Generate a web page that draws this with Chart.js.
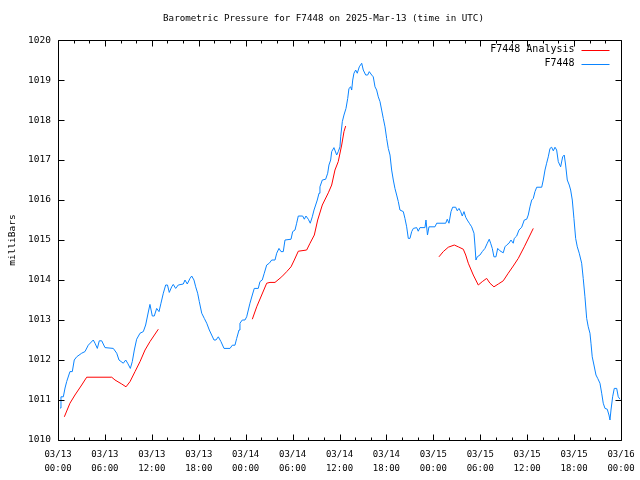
<!DOCTYPE html>
<html>
<head>
<meta charset="utf-8">
<script src="https://cdn.jsdelivr.net/npm/chart.js@4"></script>
<style>
html,body{margin:0;padding:0;background:#fff;}
canvas{display:block;}
</style>
</head>
<body>
<canvas id="c" width="640" height="480"></canvas>
<script>
// ---- data (x = hours since 2025-03-13 00:00 UTC) ----
const titleText = 'Barometric Pressure for F7448 on 2025-Mar-13 (time in UTC)';
const yAxisTitle = 'milliBars';
const seriesNames = ['F7448 Analysis', 'F7448'];
const xTickHours = [0,6,12,18,24,30,36,42,48,54,60,66,72];
const xTickLabels = [
  ['03/13','00:00'],['03/13','06:00'],['03/13','12:00'],['03/13','18:00'],
  ['03/14','00:00'],['03/14','06:00'],['03/14','12:00'],['03/14','18:00'],
  ['03/15','00:00'],['03/15','06:00'],['03/15','12:00'],['03/15','18:00'],
  ['03/16','00:00']
];
const yTickValues = [1010,1011,1012,1013,1014,1015,1016,1017,1018,1019,1020];
const yTickLabels = ['1010','1011','1012','1013','1014','1015','1016','1017','1018','1019','1020'];

const stationHours = [
0.26,0.38,0.68,0.9,1.11,1.53,1.83,2.08,2.39,3.03,3.45,3.87,4.51,4.73,5.03,5.28,5.59,6.01,7.07,7.51,
7.8,8.35,8.66,8.91,9.25,9.5,9.76,10.06,10.49,10.91,11.21,11.55,11.76,12.06,12.31,12.62,12.92,13.17,13.47,13.77,
14.0,14.23,14.54,14.74,15.05,15.38,16.02,16.24,16.53,16.88,17.1,17.39,17.61,17.86,18.07,18.38,18.71,19.02,19.35,19.65,
19.95,20.2,20.5,20.84,21.23,22.0,22.29,22.63,22.85,23.15,23.27,23.57,23.91,24.13,24.34,24.55,24.85,25.1,25.61,25.83,
26.12,26.38,26.69,27.02,27.33,27.75,27.97,28.26,28.52,28.81,29.03,29.8,30.01,30.31,30.52,30.73,31.29,31.5,31.71,32.01,
32.26,32.52,32.74,32.95,33.16,33.38,33.5,33.8,34.23,34.49,34.65,34.87,35.0,35.29,35.64,35.84,36.06,36.15,36.36,36.57,
36.83,37.05,37.21,37.43,37.56,37.69,37.85,38.07,38.27,38.53,38.84,39.04,39.35,39.6,39.81,40.12,40.32,40.54,40.75,40.96,
41.18,41.39,41.6,41.82,42.03,42.24,42.46,42.67,42.88,43.09,43.31,43.52,43.73,44.16,44.37,44.59,44.8,45.01,45.23,45.44,
45.87,46.07,46.29,46.93,47.06,47.25,47.44,48.21,48.43,49.58,49.78,50.0,50.26,50.47,50.86,51.06,51.28,51.5,51.7,51.92,
52.14,52.34,52.6,52.9,53.2,53.32,53.45,53.62,53.96,54.26,54.6,54.9,55.15,55.33,55.54,55.75,56.01,56.23,56.52,56.94,
57.16,57.38,57.67,57.93,58.22,58.35,58.66,58.95,59.3,59.63,59.94,60.14,60.36,60.58,60.78,61.0,61.22,61.86,62.06,62.28,
62.49,62.7,62.92,63.13,63.34,63.56,63.77,63.98,64.28,64.54,64.74,64.92,65.13,65.38,65.56,65.77,65.98,66.2,66.41,66.66,
66.97,67.17,67.39,67.61,67.81,68.03,68.16,68.32,68.54,68.8,69.02,69.31,69.53,69.73,69.95,70.24,70.46,70.59,70.72,70.93,
71.14,71.45,71.65,71.87
];
const stationPressure = [
1010.8,1011.08,1011.08,1011.3,1011.46,1011.71,1011.71,1012.0,1012.08,1012.17,1012.21,1012.37,1012.5,1012.42,1012.29,1012.48,1012.48,1012.31,1012.29,1012.17,
1012.0,1011.92,1012.0,1011.92,1011.79,1011.96,1012.25,1012.52,1012.67,1012.71,1012.875,1013.2,1013.39,1013.1,1013.1,1013.29,1013.21,1013.42,1013.67,1013.875,
1013.875,1013.69,1013.83,1013.89,1013.79,1013.875,1013.9,1014.0,1013.9,1014.04,1014.1,1014.0,1013.83,1013.67,1013.46,1013.17,1013.04,1012.92,1012.75,1012.625,
1012.5,1012.5,1012.58,1012.46,1012.29,1012.29,1012.37,1012.37,1012.54,1012.75,1012.92,1013.0,1013.0,1013.08,1013.25,1013.42,1013.625,1013.79,1013.79,1013.96,
1014.0,1014.17,1014.375,1014.42,1014.5,1014.5,1014.67,1014.79,1014.71,1014.71,1015.0,1015.02,1015.21,1015.25,1015.42,1015.6,1015.6,1015.52,1015.6,1015.52,
1015.42,1015.58,1015.75,1015.875,1016.0,1016.17,1016.33,1016.5,1016.52,1016.67,1016.875,1017.0,1017.21,1017.31,1017.125,1017.21,1017.33,1017.58,1017.96,1018.125,
1018.29,1018.54,1018.79,1018.83,1018.75,1019.0,1019.17,1019.25,1019.17,1019.33,1019.42,1019.25,1019.125,1019.125,1019.21,1019.125,1019.08,1018.83,1018.75,1018.58,
1018.46,1018.25,1018.04,1017.83,1017.54,1017.29,1017.125,1016.75,1016.5,1016.29,1016.125,1015.96,1015.75,1015.71,1015.54,1015.33,1015.04,1015.04,1015.21,1015.29,
1015.31,1015.22,1015.31,1015.31,1015.5,1015.125,1015.33,1015.33,1015.42,1015.42,1015.52,1015.42,1015.71,1015.82,1015.82,1015.73,1015.79,1015.71,1015.6,1015.71,
1015.57,1015.5,1015.42,1015.33,1015.17,1014.875,1014.5,1014.58,1014.625,1014.71,1014.79,1014.92,1015.02,1014.92,1014.79,1014.58,1014.58,1014.79,1014.73,1014.68,
1014.83,1014.875,1014.92,1015.0,1014.92,1015.04,1015.1,1015.25,1015.32,1015.5,1015.52,1015.625,1015.83,1016.0,1016.04,1016.21,1016.32,1016.32,1016.5,1016.75,
1016.92,1017.08,1017.29,1017.32,1017.23,1017.32,1017.25,1016.96,1016.83,1017.08,1017.125,1016.875,1016.5,1016.375,1016.25,1016.0,1015.54,1015.04,1014.83,1014.67,
1014.42,1014.04,1013.58,1013.04,1012.83,1012.67,1012.42,1012.08,1011.875,1011.625,1011.54,1011.42,1011.17,1010.92,1010.79,1010.77,1010.625,1010.5,1010.75,1011.08,
1011.29,1011.29,1011.08,1011.02
];

// analysis series; null separates the three runs
const analysisHours = [
0.81,1.53,2.17,3.03,3.67,6.87,7.29,8.15,8.7,9.21,9.85,10.49,11.13,11.76,12.83,
13.5,
24.85,25.41,26.05,26.69,27.11,27.75,28.61,29.25,29.8,30.22,30.73,31.8,32.23,32.78,33.21,33.8,34.57,35.0,35.42,35.84,36.28,36.57,36.79,
40.0,
48.72,49.27,49.91,50.68,51.19,51.83,52.14,52.47,53.11,53.75,54.26,54.82,55.24,55.75,56.31,56.94,57.58,58.22,58.86,59.63,60.78
];
const analysisPressure = [
1010.58,1010.92,1011.125,1011.375,1011.57,1011.57,1011.5,1011.4,1011.33,1011.46,1011.71,1011.96,1012.25,1012.46,1012.77,
null,
1013.02,1013.33,1013.625,1013.92,1013.94,1013.94,1014.08,1014.21,1014.33,1014.5,1014.72,1014.75,1014.92,1015.125,1015.5,1015.875,1016.18,1016.375,1016.75,1016.96,1017.375,1017.71,1017.85,
null,
1014.58,1014.71,1014.82,1014.875,1014.83,1014.77,1014.625,1014.42,1014.125,1013.875,1013.96,1014.04,1013.92,1013.83,1013.9,1013.98,1014.17,1014.35,1014.54,1014.83,1015.29
];

const FONT = "'DejaVu Sans Mono', 'Liberation Mono', monospace";
const RED = '#ff0000';
const BLUE = '#0a84ff';

const framePlugin = {
  id: 'frame',
  afterDraw(chart) {
    const ctx = chart.ctx, a = chart.chartArea, xs = chart.scales.x, ys = chart.scales.y;
    ctx.save();
    ctx.strokeStyle = '#000';
    ctx.lineWidth = 1;
    const L = Math.round(a.left) + 0.5, R = Math.round(a.right) + 0.5;
    const T = Math.round(a.top) + 0.5, B = Math.round(a.bottom) + 0.5;
    ctx.beginPath();
    ctx.rect(L, T, R - L, B - T);
    // x ticks: major every 6h, minor every 2h
    for (let h = 0; h <= 72; h += 2) {
      const px = Math.round(xs.getPixelForValue(h)) + 0.5;
      const len = (h % 6 === 0) ? 6 : 3;
      ctx.moveTo(px, B); ctx.lineTo(px, B - len);
      ctx.moveTo(px, T); ctx.lineTo(px, T + len);
    }
    yTickValues.forEach(v => {
      const py = Math.round(ys.getPixelForValue(v)) + 0.5;
      ctx.moveTo(L, py); ctx.lineTo(L + 6, py);
      ctx.moveTo(R, py); ctx.lineTo(R - 6, py);
    });
    ctx.stroke();

    // legend (gnuplot style, top-right inside)
    ctx.font = '10px ' + FONT;
    ctx.fillStyle = '#000';
    ctx.textAlign = 'right';
    ctx.textBaseline = 'middle';
    const entries = [[seriesNames[0], RED], [seriesNames[1], BLUE]];
    entries.forEach((e, i) => {
      const y = T + 9 + i * 14;
      ctx.fillText(e[0], R - 47, y);
      ctx.beginPath();
      ctx.strokeStyle = e[1];
      ctx.moveTo(R - 40, Math.round(y) + 0.5);
      ctx.lineTo(R - 12, Math.round(y) + 0.5);
      ctx.stroke();
    });
    ctx.restore();
  }
};

new Chart(document.getElementById('c'), {
  type: 'line',
  data: {
    datasets: [
      {
        label: seriesNames[0],
        data: analysisHours.map((h, i) => ({x: h, y: analysisPressure[i]})),
        borderColor: RED, borderWidth: 1, pointRadius: 0, tension: 0, spanGaps: false, fill: false
      },
      {
        label: seriesNames[1],
        data: stationHours.map((h, i) => ({x: h, y: stationPressure[i]})),
        borderColor: BLUE, borderWidth: 1, pointRadius: 0, tension: 0, fill: false
      }
    ]
  },
  options: {
    responsive: false,
    animation: false,
    devicePixelRatio: 1,
    layout: { padding: { left: 7, right: 0, top: 0, bottom: 0 } },
    plugins: {
      legend: { display: false },
      tooltip: { enabled: false },
      title: {
        display: true,
        text: titleText,
        color: '#000',
        font: { family: FONT, size: 9.2, weight: 'normal', lineHeight: 1.2 },
        padding: { top: 13, bottom: 16 }
      }
    },
    scales: {
      x: {
        type: 'linear',
        min: 0, max: 72,
        afterBuildTicks(scale) { scale.ticks = xTickHours.map(v => ({value: v})); },
        ticks: {
          autoSkip: false, maxRotation: 0,
          color: '#000',
          font: { family: FONT, size: 9, lineHeight: 1.55 },
          padding: 8,
          callback(value) { const i = xTickHours.indexOf(value); return i >= 0 ? xTickLabels[i] : ''; }
        },
        grid: { display: false, drawTicks: false },
        border: { display: false },
        afterFit(scale) { scale.height = 40; scale.paddingLeft = 0; scale.paddingRight = 0; }
      },
      y: {
        type: 'linear',
        min: 1010, max: 1020,
        afterBuildTicks(scale) { scale.ticks = yTickValues.map(v => ({value: v})); },
        ticks: {
          color: '#000',
          font: { family: FONT, size: 9.5 },
          padding: 7,
          callback(value) { const i = yTickValues.indexOf(value); return i >= 0 ? yTickLabels[i] : ''; }
        },
        title: {
          display: true, text: yAxisTitle, color: '#000',
          font: { family: FONT, size: 9.5, lineHeight: 1.2 },
          padding: { top: 0, bottom: 0 }
        },
        grid: { display: false, drawTicks: false },
        border: { display: false },
        afterFit(scale) { scale.width = 51; }
      },
      yRight: {
        type: 'linear',
        position: 'right',
        display: true,
        min: 1010, max: 1020,
        ticks: { display: false },
        grid: { display: false, drawTicks: false },
        border: { display: false },
        afterFit(scale) { scale.width = 19; }
      }
    }
  },
  plugins: [framePlugin]
});
</script>
</body>
</html>
